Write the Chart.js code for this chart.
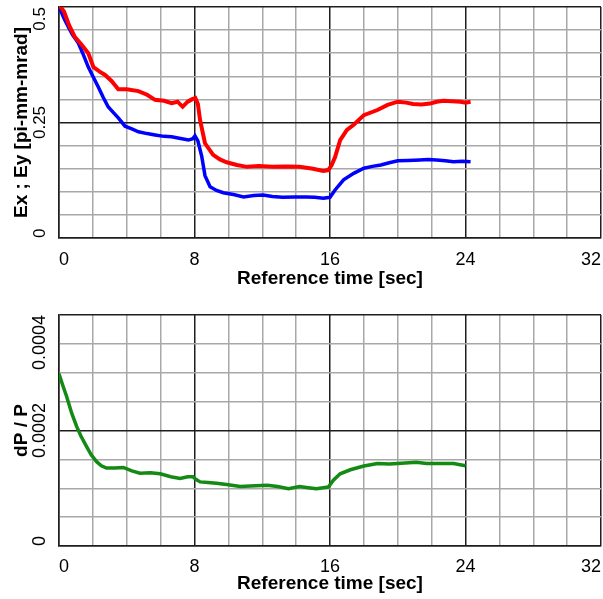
<!DOCTYPE html>
<html lang="en">
<head>
<meta charset="UTF-8">
<title>Emittance and momentum spread vs reference time</title>
<script src="https://cdn.jsdelivr.net/npm/chart.js@4.4.1/dist/chart.umd.min.js"></script>
<style>
  body { margin: 0; background: #fff; }
  .plot { position: absolute; left: 0; width: 603px; }
  #top { top: 0; height: 300px; }
  #bottom { top: 300px; height: 299px; }
</style>
</head>
<body>
<div class="plot" id="top"><canvas id="emitChart"></canvas></div>
<div class="plot" id="bottom"><canvas id="dpChart"></canvas></div>

<script>
// Ex (red) [pi-mm-mrad] vs reference time [sec]
const exTime = [0, 0.3, 0.6, 0.94, 1.3, 1.73, 2.03, 2.4, 2.72, 3.1, 3.5, 4.0, 4.69, 5.2, 5.67, 6.2, 6.65, 7.0, 7.3, 7.6, 7.84, 8.05, 8.2, 8.33, 8.62, 9.1, 9.5, 9.9, 10.5, 11.1, 11.8, 12.6, 13.4, 14.2, 15.0, 15.6, 15.9, 16.1, 16.3, 16.6, 17.0, 17.4, 18.0, 18.8, 19.4, 20.0, 20.5, 20.9, 21.4, 21.9, 22.3, 22.7, 23.2, 23.7, 24.0, 24.3];
const exValues = [0.505, 0.49, 0.46, 0.435, 0.42, 0.40, 0.37, 0.36, 0.353, 0.34, 0.322, 0.322, 0.318, 0.31, 0.299, 0.297, 0.292, 0.295, 0.284, 0.295, 0.30, 0.303, 0.29, 0.255, 0.205, 0.18, 0.17, 0.164, 0.158, 0.154, 0.156, 0.154, 0.155, 0.154, 0.15, 0.145, 0.147, 0.158, 0.175, 0.212, 0.234, 0.245, 0.266, 0.277, 0.288, 0.295, 0.293, 0.29, 0.289, 0.291, 0.295, 0.297, 0.296, 0.295, 0.293, 0.295];

// Ey (blue)
const eyTime = [0, 0.3, 0.55, 0.8, 1.14, 1.4, 1.73, 2.0, 2.32, 2.6, 2.9, 3.2, 3.5, 3.9, 4.3, 4.69, 5.2, 5.67, 6.2, 6.65, 7.1, 7.64, 7.9, 8.03, 8.2, 8.43, 8.62, 8.92, 9.3, 9.7, 10.3, 10.9, 11.5, 12.05, 12.6, 13.2, 13.9, 14.6, 15.1, 15.6, 16.0, 16.3, 16.8, 17.4, 18.0, 18.5, 19.0, 19.5, 20.0, 20.6, 21.3, 21.8, 22.3, 22.8, 23.3, 23.8, 24.3];
const eyValues = [0.50, 0.475, 0.457, 0.44, 0.422, 0.40, 0.37, 0.35, 0.327, 0.305, 0.284, 0.272, 0.26, 0.242, 0.236, 0.23, 0.226, 0.223, 0.22, 0.219, 0.216, 0.212, 0.215, 0.221, 0.21, 0.176, 0.135, 0.111, 0.103, 0.098, 0.094, 0.089, 0.092, 0.093, 0.09, 0.088, 0.089, 0.089, 0.088, 0.086, 0.088, 0.104, 0.126, 0.14, 0.151, 0.155, 0.158, 0.163, 0.167, 0.168, 0.169, 0.17, 0.169, 0.167, 0.165, 0.166, 0.165];

// dP/P (green)
const dpTime = [0, 0.2, 0.45, 0.75, 1.04, 1.3, 1.63, 1.9, 2.22, 2.5, 2.8, 3.3, 3.8, 4.3, 4.78, 5.4, 5.97, 6.6, 7.15, 7.6, 7.9, 8.1, 8.33, 8.8, 9.3, 10.0, 10.7, 11.3, 12.3, 12.9, 13.55, 14.2, 14.7, 15.2, 15.9, 16.2, 16.6, 17.2, 18.0, 18.8, 19.5, 20.0, 21.1, 21.7, 22.3, 23.3, 24.0];
const dpValues = [0.000298, 0.00028, 0.000259, 0.00023, 0.000207, 0.00019, 0.000172, 0.000158, 0.000146, 0.000139, 0.000135, 0.000135, 0.000136, 0.00013, 0.000126, 0.000127, 0.000125, 0.00012, 0.000117, 0.00012, 0.00012, 0.000115, 0.000111, 0.00011, 0.0001085, 0.000106, 0.000103, 0.000104, 0.000105, 0.000103, 0.000099, 0.000103, 0.000101, 0.000099, 0.000102, 0.000114, 0.000125, 0.000132, 0.0001385, 0.000143, 0.000142, 0.000143, 0.000145, 0.000143, 0.000143, 0.000143, 0.000139];

// axis ticks
const timeTicks = [0, 8, 16, 24, 32];
const emitTicks = [0, 0.25, 0.5];
const emitTickLabels = ['0', '0.25', '0.5'];
const dpTicks = [0, 0.0002, 0.0004];
const dpTickLabels = ['0', '0.0002', '0.0004'];

const FONT = 'Arial, "Liberation Sans", sans-serif';
const MINOR = '#a8a8a8';
const MAJOR = '#1e1e1e';

const toPoints = (xs, ys) => xs.map((x, i) => ({ x, y: ys[i] }));
const isMultiple = (v, step) => Math.abs(v / step - Math.round(v / step)) < 1e-6;

// rotated y tick labels, kept inside the plot height like the original
const yTickLabels = {
    id: 'yTickLabels',
    afterDraw(chart, args, opts) {
        const { ctx, chartArea } = chart;
        const y = chart.scales.y;
        ctx.save();
        ctx.font = opts.font;
        ctx.fillStyle = '#000';
        ctx.textBaseline = 'middle';
        opts.values.forEach((v, i) => {
            const py = y.getPixelForValue(v);
            ctx.save();
            ctx.translate(opts.x, py);
            ctx.rotate(-Math.PI / 2);
            if (py <= chartArea.top + 1) ctx.textAlign = 'right';
            else if (py >= chartArea.bottom - 1) ctx.textAlign = 'left';
            else ctx.textAlign = 'center';
            ctx.fillText(opts.labels[i], 0, 0);
            ctx.restore();
        });
        ctx.restore();
    }
};

const makeChart = (id, datasets, cfg) => new Chart(document.getElementById(id), {
    type: 'line',
    data: { datasets },
    options: {
        responsive: true,
        maintainAspectRatio: false,
        animation: false,
        layout: { padding: { top: cfg.padTop, right: 2, left: 0, bottom: 0 } },
        plugins: {
            legend: { display: false },
            tooltip: { enabled: false },
            yTickLabels: { values: cfg.yTicks, labels: cfg.yLabels, x: 40, font: cfg.yTickFont }
        },
        elements: { point: { radius: 0 }, line: { tension: 0 } },
        scales: {
            x: {
                type: 'linear',
                min: 0,
                max: 32,
                afterFit: s => { s.height = cfg.xHeight; s.paddingLeft = 0; s.paddingRight = 0; },
                afterBuildTicks: s => { s.ticks = Array.from({ length: 17 }, (_, i) => ({ value: i * 2 })); },
                ticks: {
                    autoSkip: false,
                    maxRotation: 0,
                    align: 'inner',
                    padding: cfg.xTickPad,
                    color: '#000',
                    font: { family: FONT, size: 18 },
                    callback: v => timeTicks.includes(v) ? String(v) : ''
                },
                grid: {
                    drawTicks: false,
                    lineWidth: 1.5,
                    color: c => isMultiple(c.tick.value, 8) ? MAJOR : MINOR
                },
                border: { display: true, color: MAJOR, width: 1.5 },
                title: {
                    display: true,
                    text: 'Reference time [sec]',
                    color: '#000',
                    font: { family: FONT, size: 19, weight: 'bold' },
                    padding: { top: 0, bottom: cfg.xTitlePad }
                }
            },
            y: {
                min: 0,
                max: cfg.yMax,
                afterFit: s => { s.width = 59; },
                ticks: { display: false, stepSize: cfg.yStep },
                grid: {
                    drawTicks: false,
                    lineWidth: 1.5,
                    color: c => isMultiple(c.tick.value, cfg.yMajor) ? MAJOR : MINOR
                },
                border: { display: true, color: MAJOR, width: 1.5 },
                title: {
                    display: true,
                    text: cfg.yTitle,
                    color: '#000',
                    font: { family: FONT, size: 19, weight: 'bold' },
                    padding: { top: 10.6, bottom: 0 }
                }
            }
        }
    },
    plugins: [yTickLabels]
});

makeChart('emitChart', [
    { label: 'Ex', data: toPoints(exTime, exValues), borderColor: '#ff0000', borderWidth: 4 },
    { label: 'Ey', data: toPoints(eyTime, eyValues), borderColor: '#0000ff', borderWidth: 3.5 }
], {
    padTop: 7, xHeight: 62, xTickPad: 11, xTitlePad: 9.6,
    yMax: 0.5, yStep: 0.05, yMajor: 0.25,
    yTicks: emitTicks, yLabels: emitTickLabels, yTickFont: '17px ' + FONT,
    yTitle: 'Ex ; Ey [pi-mm-mrad]'
});

makeChart('dpChart', [
    { label: 'dP/P', data: toPoints(dpTime, dpValues), borderColor: '#138a13', borderWidth: 3.5 }
], {
    padTop: 15, xHeight: 53, xTickPad: 10, xTitlePad: 3.6,
    yMax: 0.0004, yStep: 0.00005, yMajor: 0.0002,
    yTicks: dpTicks, yLabels: dpTickLabels, yTickFont: '18px ' + FONT,
    yTitle: 'dP / P'
});
</script>
</body>
</html>
